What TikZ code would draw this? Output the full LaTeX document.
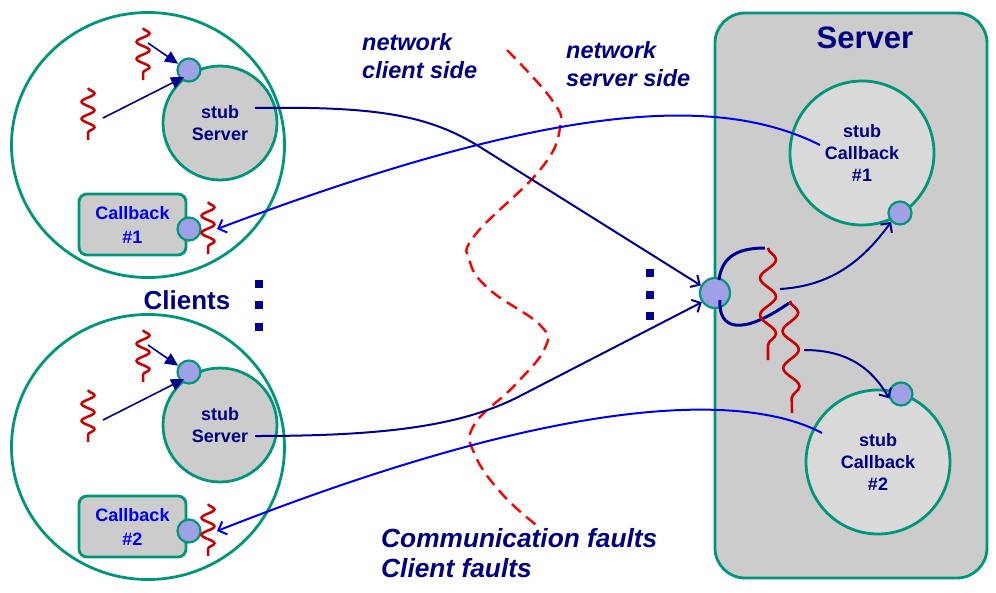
\documentclass[tikz,border=0pt]{standalone}
\usepackage{fontspec}
\setmainfont{Liberation Sans}
\usetikzlibrary{shapes.geometric,arrows.meta,decorations.pathmorphing}
\definecolor{grn}{RGB}{0,150,120}
\definecolor{navy}{RGB}{0,0,145}
\definecolor{txtnavy}{RGB}{0,0,128}
\definecolor{brblue}{RGB}{0,0,240}
\definecolor{portc}{RGB}{160,160,230}
\definecolor{gfill}{RGB}{204,204,204}
\definecolor{lgfill}{RGB}{217,217,217}
\definecolor{sqred}{RGB}{204,0,0}
\definecolor{dred}{RGB}{255,0,0}
\begin{document}
\begin{tikzpicture}[x=1pt,y=-1pt,
  outer/.style={ellipse, draw=grn, line width=2.8pt, minimum width=273pt, minimum height=265pt, inner sep=0pt},
  stubc/.style={circle, draw=grn, line width=2.8pt, fill=gfill, inner sep=0pt, text=txtnavy, font=\fontsize{18}{22}\selectfont\bfseries, align=center},
  port/.style={circle, draw=grn, line width=2.2pt, fill=portc, inner sep=0pt, minimum size=23pt},
  cbbox/.style={rectangle, rounded corners=8pt, draw=grn, line width=2.8pt, fill=gfill, minimum width=107pt, minimum height=61pt, inner sep=0pt, text=brblue, font=\fontsize{18}{24}\selectfont\bfseries, align=center},
  squig/.style={draw=sqred, line width=2.5pt, decorate, decoration={snake, segment length=17pt, amplitude=6.5pt}},
  bigsquig/.style={draw=sqred, line width=2.6pt, decorate, decoration={snake, segment length=37pt, amplitude=8pt}},
  farrow/.style={draw=navy, line width=1.6pt, -{Triangle[length=13pt,width=12pt]}},
  navyline/.style={draw=navy, line width=2pt, -{Straight Barb[length=7pt,width=14pt]}},
  blueline/.style={draw=brblue, line width=2pt, -{Straight Barb[length=7pt,width=14pt]}},
  thickcurve/.style={draw=navy, line width=3pt},
  dotsq/.style={rectangle, fill=navy, minimum size=8pt, inner sep=0pt},
  netlabel/.style={text=txtnavy, font=\bfseries\itshape\fontsize{23.5}{28}\selectfont, align=left, anchor=west, inner sep=0pt},
  faultlabel/.style={text=txtnavy, font=\bfseries\itshape\fontsize{26.3}{30}\selectfont, align=left, anchor=west, inner sep=0pt},
  headlabel/.style={text=txtnavy, font=\bfseries\fontsize{#1}{#1}\selectfont, inner sep=0pt}
]
\useasboundingbox (0,0) rectangle (996,592);

% ---------------- Server ----------------
\node[rectangle, rounded corners=30pt, draw=grn, line width=2.8pt, fill=gfill,
      minimum width=272pt, minimum height=565pt, inner sep=0pt] (srv) at (851,295.5) {};
\node[headlabel=31] (srvlabel) at (865,38) {Server};
\node[stubc, fill=lgfill, minimum size=144pt] (scb1) at (862,153) {stub\\Callback\\\#1};
\node[port] (scbp1) at (900,213) {};
\node[stubc, fill=lgfill, minimum size=144pt] (scb2) at (878,462) {stub\\Callback\\\#2};
\node[port] (scbp2) at (901,394) {};
\node[port, minimum size=30pt] (sp) at (715,293) {};

% server internals
\draw[thickcurve] (719,280) .. controls (722,255) and (740,248) .. (765,248);
\draw[thickcurve] (720,300) .. controls (718,330) and (742,336) .. (789,303);
\draw[bigsquig] (768,248) -- (768,360);
\draw[bigsquig] (790,301) -- (792,413);
\draw[navyline] (780,289) .. controls (830,286) and (862,262) .. (scbp1.225);
\draw[navyline] (804,350) .. controls (840,350) and (868,362) .. (scbp2.200);

% ---------------- Client 1 ----------------
\node[outer] (c1) at (148,145) {};
\node[stubc, minimum size=114pt] (ss1) at (220,123) {stub\\Server};
\node[port] (p1) at (189,70) {};
\node[cbbox] (cb1) at (132.5,224.5) {Callback\\\#1};
\node[port] (cbp1) at (189,229) {};
\draw[squig] (143,28) -- (143,80);
\draw[squig] (88,88) -- (88,140);
\draw[squig] (208,202) -- (208,254);
\coordinate (a1s) at (148,43);
\coordinate (a2s) at (103,118);
\draw[farrow] (a1s) -- (p1.150);
\draw[farrow] (a2s) -- (ss1.128);

% ---------------- Client 2 ----------------
\node[outer] (c2) at (148,447) {};
\node[stubc, minimum size=114pt] (ss2) at (220,425) {stub\\Server};
\node[port] (p2) at (189,372) {};
\node[cbbox] (cb2) at (132.5,526.5) {Callback\\\#2};
\node[port] (cbp2) at (189,531) {};
\draw[squig] (143,330) -- (143,382);
\draw[squig] (88,390) -- (88,442);
\draw[squig] (208,504) -- (208,556);
\coordinate (b1s) at (148,345);
\coordinate (b2s) at (103,420);
\draw[farrow] (b1s) -- (p2.150);
\draw[farrow] (b2s) -- (ss2.128);

% ---------------- labels ----------------
\node[headlabel=26] (clients) at (187,300) {Clients};
\node[netlabel] (netc) at (362,56) {network\\client side};
\node[netlabel] (nets) at (566,64) {network\\server side};
\node[faultlabel] (faults) at (381,553) {Communication faults\\Client faults};

\foreach \yy [count=\i] in {284,305,327} \node[dotsq] (dl\i) at (259,\yy) {};
\foreach \yy [count=\i] in {273,295,316} \node[dotsq] (dr\i) at (650,\yy) {};

% ---------------- network boundary ----------------
\draw[dred, line width=2.4pt, dash pattern=on 12pt off 7pt] plot[smooth, tension=0.7] coordinates
 {(507,50) (552,100) (560,128) (540,170) (475,235) (470,262) (490,290) (540,325) (545,348) (515,385) (474,425) (475,455) (503,495) (540,528)};

% ---------------- long connectors ----------------
\coordinate (s1out) at (255,108);
\coordinate (s2out) at (255,436);
\coordinate (cb1in) at (820,145);
\coordinate (cb2in) at (822,433);
\draw[navyline] (s1out) .. controls (380,106) and (430,116) .. (480,147) -- (sp.152);
\draw[navyline] (s2out) .. controls (380,436) and (460,427) .. (520,396) -- (sp.215);
\draw[blueline] (cb1in) .. controls (720,95) and (560,100) .. ([xshift=28pt]cbp1.center);
\draw[blueline] (cb2in) .. controls (760,400) and (600,380) .. ([xshift=28pt]cbp2.center);
\end{tikzpicture}
\end{document}
